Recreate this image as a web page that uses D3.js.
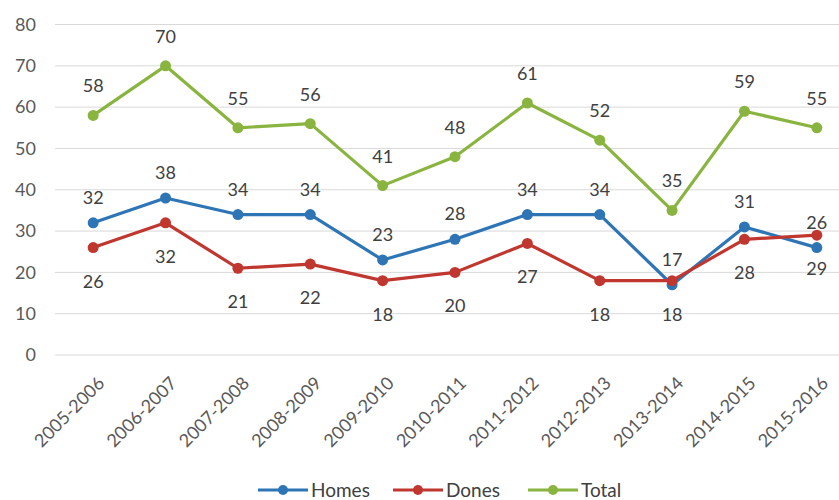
<!DOCTYPE html>
<html>
<head>
<meta charset="utf-8">
<script src="https://cdn.jsdelivr.net/npm/d3@7"></script>
<style>
  body { margin: 0; background: #fff; }
  svg { display: block; font-family: Lato, "Open Sans", sans-serif; }
</style>
</head>
<body>
<svg id="chart" width="839" height="500"></svg>
<script>
var seasons = ['2005-2006', '2006-2007', '2007-2008', '2008-2009', '2009-2010', '2010-2011',
    '2011-2012', '2012-2013', '2013-2014', '2014-2015', '2015-2016'];
var homes = [32, 38, 34, 34, 23, 28, 34, 34, 17, 31, 26];
var dones = [26, 32, 21, 22, 18, 20, 27, 18, 18, 28, 29];
var total = [58, 70, 55, 56, 41, 48, 61, 52, 35, 59, 55];
var yTicks = [0, 10, 20, 30, 40, 50, 60, 70, 80];

var series = [
    { name: 'Homes', values: homes, color: '#2e75b6', labelDy: -19 },
    { name: 'Dones', values: dones, color: '#c0372f', labelDy: 40 },
    { name: 'Total', values: total, color: '#8ab440', labelDy: -23 }
];

var svg = d3.select('#chart');

var scaleX = d3.scaleBand()
    .domain(seasons)
    .range([57, 853]);

var scaleY = d3.scaleLinear()
    .domain([0, 80])
    .range([355, 24.5]);

// grid
svg.append('g')
    .selectAll('line')
    .data(yTicks)
    .enter()
    .append('line')
    .attr('x1', 55)
    .attr('x2', 839)
    .attr('y1', d => scaleY(d))
    .attr('y2', d => scaleY(d))
    .attr('stroke', '#d9d9d9')
    .attr('stroke-width', 1);

// y labels
let yAxis = d3.axisLeft(scaleY).tickValues(yTicks).tickSize(0).tickPadding(0);
svg.append('g')
    .attr('transform', 'translate(36 0)')
    .call(yAxis)
    .call(g => g.select('.domain').remove())
    .selectAll('text')
    .attr('font-size', 18)
    .attr('font-family', 'Lato, sans-serif')
    .attr('fill', '#595959');

// x labels
let xAxis = d3.axisBottom(scaleX).tickSize(0).tickPadding(0);
svg.append('g')
    .attr('transform', 'translate(0 366)')
    .call(xAxis)
    .call(g => g.select('.domain').remove())
    .selectAll('text')
    .attr('font-size', 18)
    .attr('font-family', 'Lato, sans-serif')
    .attr('fill', '#595959')
    .attr('text-anchor', 'end')
    .attr('dy', '0.35em')
    .attr('transform', 'translate(8 14) rotate(-45)');

var cx = d => scaleX(d) + scaleX.bandwidth() / 2;

var line = d3.line()
    .x((d, i) => cx(seasons[i]))
    .y(d => scaleY(d));

series.forEach(s => {
    let g = svg.append('g');

    g.append('path')
        .attr('d', line(s.values))
        .attr('fill', 'none')
        .attr('stroke', s.color)
        .attr('stroke-width', 3.2)
        .attr('stroke-linejoin', 'round');

    g.selectAll('circle')
        .data(s.values)
        .enter()
        .append('circle')
        .attr('cx', (d, i) => cx(seasons[i]))
        .attr('cy', d => scaleY(d))
        .attr('r', 5.5)
        .attr('fill', s.color);
});

// data labels on top
series.forEach(s => {
    svg.append('g')
        .selectAll('text')
        .data(s.values)
        .enter()
        .append('text')
        .attr('x', (d, i) => cx(seasons[i]))
        .attr('y', d => scaleY(d) + s.labelDy)
        .attr('text-anchor', 'middle')
        .attr('font-size', 18)
        .attr('fill', '#404040')
        .text(d => d);
});

// legend
var legend = svg.append('g').attr('transform', 'translate(0 490)');
var legendX = [258, 393, 528];
series.forEach((s, i) => {
    let g = legend.append('g').attr('transform', `translate(${legendX[i]} 0)`);
    g.append('line')
        .attr('x1', 0).attr('x2', 50)
        .attr('stroke', s.color)
        .attr('stroke-width', 3.2);
    g.append('circle')
        .attr('cx', 25)
        .attr('r', 5)
        .attr('fill', s.color);
    g.append('text')
        .attr('x', 53)
        .attr('dy', '0.35em')
        .attr('font-size', 19)
        .attr('fill', '#404040')
        .text(s.name);
});
</script>
</body>
</html>
